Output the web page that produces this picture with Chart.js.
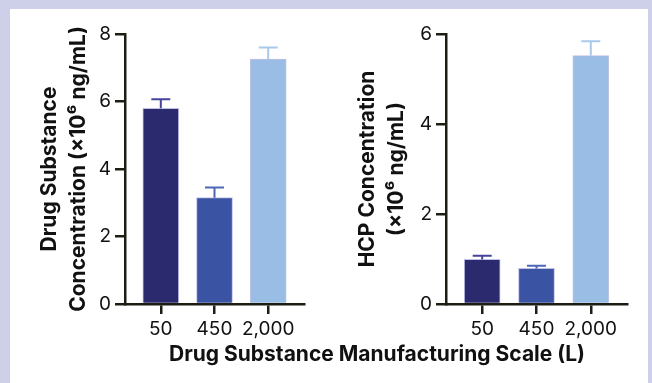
<!DOCTYPE html>
<html>
<head>
<meta charset="utf-8">
<script src="https://cdn.jsdelivr.net/npm/chart.js@4.4.1/dist/chart.umd.min.js"></script>
<style>
  html, body { margin: 0; padding: 0; }
  body { width: 652px; height: 383px; background: #ced0ea; position: relative; overflow: hidden; font-family: Inter, "Noto Sans", sans-serif; }
  #panel { position: absolute; left: 10px; top: 9px; width: 638px; height: 380px; background: #ffffff; }
  .box { position: absolute; top: 0; }
  #leftBox { left: 0; width: 325px; height: 345px; }
  #rightBox { left: 325px; width: 327px; height: 345px; }
  #xTitle { position: absolute; left: 0; width: 754px; top: 341px; line-height: 26px; text-align: center; font-weight: 700; font-size: 21px; color: #111; white-space: nowrap; }
</style>
</head>
<body>
<div id="panel"></div>
<div class="box" id="leftBox"><canvas id="dsChart"></canvas></div>
<div class="box" id="rightBox"><canvas id="hcpChart"></canvas></div>
<div id="xTitle">Drug Substance Manufacturing Scale (L)</div>
<script>
// Manufacturing scales (L)
const scaleLabels = ['50', '450', '2,000'];
const barColors = ['#2c2a6e', '#3a53a2', '#99bde5'];
const errColors = ['#45449a', '#4d67b6', '#a9c9ec'];

// Drug substance concentration (x10^6 ng/mL), mean and upper error
const dsValues = [5.80, 3.15, 7.26];
const dsErrors = [0.27, 0.30, 0.34];

// HCP concentration (x10^6 ng/mL), mean and upper error
const hcpValues = [0.99, 0.79, 5.52];
const hcpErrors = [0.08, 0.06, 0.32];

const dsTicks = [0, 2, 4, 6, 8];
const hcpTicks = [0, 2, 4, 6];

const axisColor = '#1d1d14';
const textColor = '#111111';
const fontFamily = 'Inter, "Noto Sans", sans-serif';

// Upper error bars: stem from bar top plus a cap
const errorBars = {
  id: 'errorBars',
  afterDatasetsDraw(chart, args, opts) {
    const ctx = chart.ctx;
    const meta = chart.getDatasetMeta(0);
    const y = chart.scales.y;
    const vals = chart.data.datasets[0].data;
    ctx.save();
    meta.data.forEach((bar, i) => {
      const v = vals[i].y;
      const top = y.getPixelForValue(v + opts.errors[i]);
      const base = y.getPixelForValue(v);
      const cx = bar.x;
      ctx.strokeStyle = errColors[i];
      ctx.lineWidth = 2;
      ctx.beginPath();
      ctx.moveTo(cx, base);
      ctx.lineTo(cx, top);
      ctx.moveTo(cx - 9.5, top);
      ctx.lineTo(cx + 9.5, top);
      ctx.stroke();
    });
    ctx.restore();
  }
};

function makeChart(id, values, errors, yTicks, yTitle, yWidth, titlePad, rightPad) {
  const yMax = yTicks[yTicks.length - 1];
  return new Chart(document.getElementById(id), {
    type: 'bar',
    data: {
      datasets: [{
        data: values.map((v, i) => ({ x: i + 1, y: v })),
        backgroundColor: barColors,
        borderColor: 'rgba(140,140,210,0.55)',
        borderWidth: 1,
        borderSkipped: 'start',
        barThickness: 36
      }]
    },
    options: {
      responsive: true,
      maintainAspectRatio: false,
      animation: false,
      events: [],
      layout: { padding: { top: 34, left: 0, right: rightPad, bottom: 0 } },
      plugins: {
        legend: { display: false },
        tooltip: { enabled: false },
        errorBars: { errors: errors }
      },
      scales: {
        x: {
          type: 'linear',
          offset: false,
          min: 1 / 3,
          max: 11 / 3,
          z: 1,
          afterBuildTicks: (s) => { s.ticks = scaleLabels.map((_, i) => ({ value: i + 1 })); },
          afterFit: (s) => { s.height = 41; },
          ticks: {
            callback: (v) => scaleLabels[Math.round(v) - 1],
            color: textColor,
            font: { family: fontFamily, size: 19 },
            padding: 4,
            maxRotation: 0
          },
          grid: { offset: false, drawOnChartArea: false, drawTicks: true, tickLength: 10, color: axisColor, lineWidth: 2.5 },
          border: { display: true, color: axisColor, width: 2.5 }
        },
        y: {
          min: 0,
          max: yMax,
          z: 1,
          afterBuildTicks: (s) => { s.ticks = yTicks.map(v => ({ value: v })); },
          afterFit: (s) => { s.width = yWidth; },
          ticks: {
            color: textColor,
            font: { family: fontFamily, size: 19 },
            padding: 4
          },
          grid: { drawOnChartArea: false, drawTicks: true, tickLength: 10, color: axisColor, lineWidth: 2.5 },
          border: { display: true, color: axisColor, width: 2.5 },
          title: {
            display: true,
            text: yTitle,
            color: textColor,
            font: { family: fontFamily, size: 21, weight: 'bold', lineHeight: '29px' },
            padding: { top: titlePad, bottom: 0 }
          }
        }
      }
    },
    plugins: [errorBars]
  });
}

makeChart('dsChart', dsValues, dsErrors, dsTicks,
  ['Drug Substance', 'Concentration (×10⁶ ng/mL)'], 125, 35.5, 21);
makeChart('hcpChart', hcpValues, hcpErrors, hcpTicks,
  ['HCP Concentration', '(×10⁶ ng/mL)'], 121, 28.5, 25);
</script>
</body>
</html>
